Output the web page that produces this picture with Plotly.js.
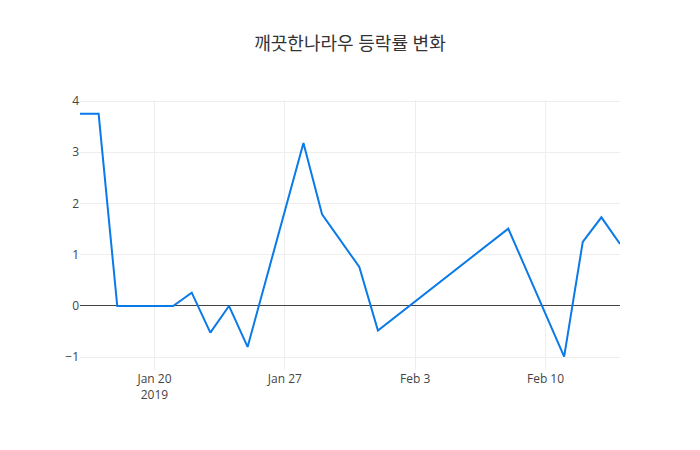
<!DOCTYPE html>
<html>
<head>
<meta charset="utf-8">
<script src="https://cdn.plot.ly/plotly-3.0.1.min.js"></script>
<style>body{margin:0;padding:0;}</style>
</head>
<body>
<div id="chart" style="width:700px;height:450px;"></div>
<script>
var dates = ['2019-01-16','2019-01-17','2019-01-18','2019-01-21','2019-01-22','2019-01-23','2019-01-24','2019-01-25','2019-01-28','2019-01-29','2019-01-31','2019-02-01','2019-02-08','2019-02-11','2019-02-12','2019-02-13','2019-02-14'];
var changes = [3.75, 3.75, 0, 0, 0.26, -0.52, 0, -0.8, 3.18, 1.79, 0.76, -0.48, 1.51, -0.99, 1.25, 1.73, 1.21];
var titleText = '깨끗한나라우 등락률 변화';

Plotly.newPlot('chart', [{
  x: dates,
  y: changes,
  type: 'scatter',
  mode: 'lines',
  line: {color: '#0a7ae8', width: 2}
}], {
  width: 700,
  height: 450,
  title: {text: titleText, font: {size: 18, color: '#333', family: '"Open Sans", "Noto Sans CJK KR", sans-serif'}},
  font: {family: '"Open Sans", "Noto Sans CJK KR", sans-serif', color: '#444'},
  margin: {l: 80, r: 80, t: 100, b: 80},
  xaxis: {range: ['2019-01-16', '2019-02-14'], gridcolor: '#eee', showline: false},
  yaxis: {range: [-1.25, 4.02], gridcolor: '#eee', zeroline: true, zerolinecolor: '#444', zerolinewidth: 1, dtick: 1},
  showlegend: false,
  paper_bgcolor: '#fff',
  plot_bgcolor: '#fff'
}, {displayModeBar: false});
</script>
</body>
</html>
